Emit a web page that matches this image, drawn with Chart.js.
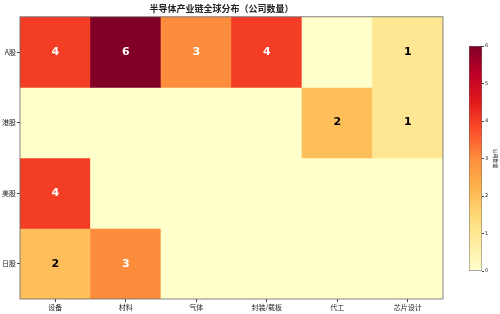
<!DOCTYPE html>
<html>
<head>
<meta charset="utf-8">
<script src="https://cdn.jsdelivr.net/npm/chart.js@4.4.1/dist/chart.umd.min.js"></script>
<style>
  body { margin: 0; background: #fff; }
  #wrap { position: relative; width: 500px; height: 314px; }
  #main { position: absolute; left: 0; top: 0; }
  #bar { position: absolute; left: 455px; top: 0; }
</style>
</head>
<body>
<div id="wrap">
  <canvas id="main" width="500" height="314"></canvas>
  <canvas id="bar" width="45" height="314"></canvas>
</div>
<script>
var titleText = '半导体产业链全球分布（公司数量）';
var columns = ['设备', '材料', '气体', '封装/载板', '代工', '芯片设计'];
var rows = ['A股', '港股', '美股', '日股'];
var rowA = [4, 6, 3, 4, 0, 1];
var rowHK = [0, 0, 0, 0, 2, 1];
var rowUS = [4, 0, 0, 0, 0, 0];
var rowJP = [2, 3, 0, 0, 0, 0];
var values = [rowA, rowHK, rowUS, rowJP];
var cbarTicks = [0, 1, 2, 3, 4, 5, 6];
var vmax = 6;

// YlOrRd stops
var stops = ['#ffffcc', '#ffeda0', '#fed976', '#feb24c', '#fd8d3c', '#fc4e2a', '#e31a1c', '#bd0026', '#800026'];

function hex(c) {
  return [parseInt(c.substr(1, 2), 16), parseInt(c.substr(3, 2), 16), parseInt(c.substr(5, 2), 16)];
}
function cmap(v) {
  var t = Math.max(0, Math.min(1, v / vmax)) * (stops.length - 1);
  var i = Math.min(Math.floor(t), stops.length - 2);
  var f = t - i;
  var a = hex(stops[i]), b = hex(stops[i + 1]);
  return 'rgb(' + Math.round(a[0] + (b[0] - a[0]) * f) + ',' + Math.round(a[1] + (b[1] - a[1]) * f) + ',' + Math.round(a[2] + (b[2] - a[2]) * f) + ')';
}

var tickFont = { size: 7, family: 'Noto Sans CJK SC' };

var datasets = rows.map(function (r, i) {
  return {
    label: r,
    data: columns.map(function () { return [i, i + 1]; }),
    backgroundColor: values[i].map(cmap),
    borderWidth: 0,
    barPercentage: 1,
    categoryPercentage: 1,
    grouped: false
  };
});

var cellText = {
  id: 'cellText',
  afterDatasetsDraw: function (chart) {
    var ctx = chart.ctx;
    ctx.save();
    ctx.font = 'bold 11px "DejaVu Sans"';
    ctx.textAlign = 'center';
    ctx.textBaseline = 'middle';
    chart.data.datasets.forEach(function (ds, i) {
      var meta = chart.getDatasetMeta(i);
      meta.data.forEach(function (el, j) {
        var v = values[i][j];
        if (v === 0) return;
        var p = el.getCenterPoint();
        ctx.fillStyle = v >= 3 ? '#ffffff' : '#000000';
        ctx.fillText(String(v), p.x, p.y);
      });
    });
    ctx.restore();
  }
};

var frame = {
  id: 'frame',
  afterDraw: function (chart) {
    var a = chart.chartArea, ctx = chart.ctx;
    ctx.save();
    ctx.strokeStyle = '#666';
    ctx.lineWidth = 0.8;
    ctx.strokeRect(a.left, a.top, a.right - a.left, a.bottom - a.top);
    ctx.restore();
  }
};

new Chart(document.getElementById('main').getContext('2d'), {
  type: 'bar',
  data: { labels: columns, datasets: datasets },
  plugins: [cellText, frame],
  options: {
    responsive: false,
    animation: false,
    layout: { padding: { left: 0, right: 57, top: 0, bottom: 0 } },
    plugins: {
      legend: { display: false },
      tooltip: { enabled: false },
      title: {
        display: true,
        text: titleText,
        color: '#222',
        font: { size: 9, weight: 'bold', family: 'Noto Sans CJK SC' },
        padding: { top: 3, bottom: 3 }
      }
    },
    scales: {
      x: {
        type: 'category',
        offset: true,
        grid: { display: true, offset: false, drawOnChartArea: false, drawTicks: true, tickLength: 3, color: '#444' },
        border: { display: false },
        ticks: { color: '#222', font: tickFont, padding: 1, maxRotation: 0 },
        afterFit: function (s) { s.height = 15; }
      },
      y: {
        type: 'linear',
        min: 0,
        max: rows.length,
        reverse: true,
        grid: { display: true, drawOnChartArea: false, drawTicks: true, tickLength: 3, color: '#444' },
        border: { display: false },
        afterBuildTicks: function (s) {
          s.ticks = rows.map(function (r, i) { return { value: i + 0.5 }; });
        },
        ticks: {
          color: '#222',
          font: tickFont,
          padding: 1,
          callback: function (v, i) { return rows[i]; }
        },
        afterFit: function (s) { s.width = 20; }
      }
    }
  }
});

new Chart(document.getElementById('bar').getContext('2d'), {
  type: 'bar',
  data: {
    labels: [''],
    datasets: [{
      data: [[0, vmax]],
      borderWidth: 0.8,
      borderColor: '#666',
      borderSkipped: false,
      barPercentage: 1,
      categoryPercentage: 1,
      backgroundColor: function (c) {
        var a = c.chart.chartArea;
        if (!a) return stops[0];
        var g = c.chart.ctx.createLinearGradient(0, a.bottom, 0, a.top);
        stops.forEach(function (s, i) { g.addColorStop(i / (stops.length - 1), s); });
        return g;
      }
    }]
  },
  options: {
    responsive: false,
    animation: false,
    layout: { padding: { left: 14, right: 0, top: 46, bottom: 43 } },
    plugins: { legend: { display: false }, tooltip: { enabled: false } },
    scales: {
      x: { display: false },
      y: {
        position: 'right',
        min: 0,
        max: vmax,
        grid: { display: true, drawOnChartArea: false, drawTicks: true, tickLength: 2, color: '#444' },
        border: { display: false },
        afterBuildTicks: function (s) {
          s.ticks = cbarTicks.map(function (t) { return { value: t }; });
        },
        ticks: { color: '#222', font: { size: 5, family: 'DejaVu Sans' }, padding: 1 },
        title: { display: true, text: '公司数量', color: '#222', font: { size: 5, family: 'Noto Sans CJK SC' }, padding: 1 },
        afterFit: function (s) { s.width = 18; }
      }
    }
  }
});
</script>
</body>
</html>
